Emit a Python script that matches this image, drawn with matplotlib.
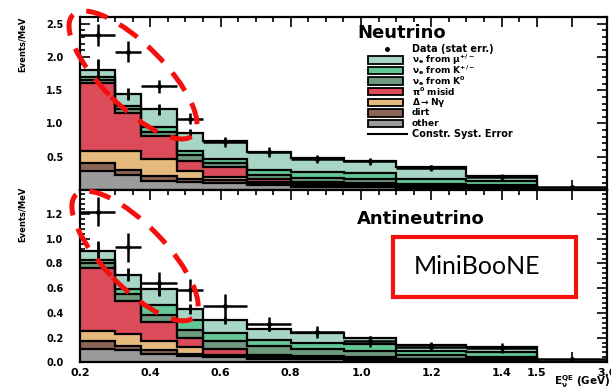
import numpy as np
import matplotlib
matplotlib.use("Agg")
import matplotlib.pyplot as plt
from matplotlib.patches import Ellipse, Rectangle
from matplotlib.lines import Line2D
from matplotlib.transforms import IdentityTransform
from matplotlib.ticker import FixedLocator, MultipleLocator, FormatStrFormatter

plt.rcParams['font.family'] = 'DejaVu Sans'
plt.rcParams['font.weight'] = 'bold'
plt.rcParams['mathtext.fontset'] = 'custom'
plt.rcParams['mathtext.rm'] = 'DejaVu Sans:bold'
plt.rcParams['mathtext.it'] = 'DejaVu Sans:bold'
plt.rcParams['mathtext.bf'] = 'DejaVu Sans:bold'
plt.rcParams['mathtext.default'] = 'rm'

# reconstructed energy bins (GeV), last bin is squeezed on the axis
edges = [0.2, 0.3, 0.375, 0.475, 0.55, 0.675, 0.8, 0.95, 1.1, 1.3, 1.5, 3.0]

# neutrino mode, Events/MeV per component (stacked bottom -> top)
nu_other = [0.28, 0.22, 0.135, 0.12, 0.10, 0.07, 0.05, 0.04, 0.03, 0.02, 0]
nu_dirt = [0.12, 0.08, 0.075, 0.04, 0.05, 0.02, 0.02, 0.01, 0.01, 0.01, 0]
nu_delta = [0.19, 0.29, 0.25, 0.12, 0.04, 0.03, 0.02, 0.02, 0.01, 0.01, 0]
nu_pi0 = [1.02, 0.57, 0.35, 0.15, 0.15, 0.04, 0.03, 0.03, 0.015, 0.01, 0]
nu_k0 = [0.05, 0.06, 0.06, 0.09, 0.06, 0.07, 0.06, 0.06, 0.025, 0.03, 0]
nu_kpm = [0.04, 0.04, 0.07, 0.07, 0.07, 0.07, 0.09, 0.09, 0.07, 0.05, 0]
nu_mu = [0.11, 0.19, 0.27, 0.27, 0.27, 0.27, 0.21, 0.19, 0.18, 0.08, 0]
nu_syst = [0.16, 0.09, 0.08, 0.05, 0.04, 0.03, 0.03, 0.03, 0.03, 0.02, 0]
nu_data = [2.33, 2.08, 1.56, 1.07, 0.72, 0.57, 0.46, 0.43, 0.33, 0.20, 0.04]
nu_err = [0.16, 0.16, 0.10, 0.08, 0.07, 0.07, 0.06, 0.05, 0.05, 0.04, 0.01]

# antineutrino mode
nb_other = [0.11, 0.10, 0.07, 0.05, 0.04, 0.03, 0.025, 0.02, 0.015, 0.01, 0]
nb_dirt = [0.06, 0.03, 0.03, 0.02, 0.01, 0.005, 0.005, 0.005, 0.005, 0.005, 0]
nb_delta = [0.08, 0.10, 0.07, 0.05, 0.01, 0.005, 0.005, 0.005, 0.005, 0.005, 0]
nb_pi0 = [0.51, 0.27, 0.16, 0.075, 0.05, 0.02, 0.015, 0.01, 0.005, 0.005, 0]
nb_k0 = [0.04, 0.05, 0.05, 0.065, 0.06, 0.07, 0.06, 0.055, 0.03, 0.02, 0]
nb_kpm = [0.03, 0.04, 0.08, 0.08, 0.065, 0.05, 0.05, 0.055, 0.03, 0.04, 0]
nb_mu = [0.07, 0.12, 0.13, 0.09, 0.105, 0.09, 0.08, 0.045, 0.05, 0.04, 0]
nb_syst = [0.08, 0.055, 0.05, 0.04, 0.03, 0.02, 0.02, 0.02, 0.015, 0.015, 0]
nb_data = [1.22, 0.93, 0.645, 0.585, 0.455, 0.31, 0.245, 0.17, 0.126, 0.118, 0.025]
nb_err = [0.12, 0.12, 0.09, 0.09, 0.10, 0.055, 0.05, 0.045, 0.035, 0.04, 0.01]

colors = ['#9b9b9b', '#8c6455', '#e6b97d', '#dc4b5a', '#6e9a7e', '#64c896', '#a8d6c4']
labels = [r'$\nu_e$ from $\mu^{+/-}$', r'$\nu_e$ from $K^{+/-}$', r'$\nu_e$ from $K^0$',
          r'$\pi^0$ misid', r'$\Delta\rightarrow N\gamma$', 'dirt', 'other']

xticks = [0.2, 0.4, 0.6, 0.8, 1.0, 1.2, 1.4, 1.5, 2.25, 3.0]
xticklabels = ['0.2', '0.4', '0.6', '0.8', '1.0', '1.2', '1.4', '1.5', '', '3.0']

K = 0.2 / 1.5   # compression of the 1.5-3.0 GeV bin


def fwd(x):
    x = np.asarray(x, float)
    return np.where(x <= 1.5, x, 1.5 + (x - 1.5) * K)


def inv(u):
    u = np.asarray(u, float)
    return np.where(u <= 1.5, u, 1.5 + (u - 1.5) / K)


def draw_panel(ax, comps, syst, data, err):
    e = np.array(edges)
    centers = 0.5 * (e[:-1] + e[1:])
    halfw = 0.5 * (e[1:] - e[:-1])
    base = np.zeros(len(centers))
    for vals, c in zip(comps, colors):
        top = base + np.array(vals)
        ax.stairs(top, e, baseline=base, fill=True, color=c, lw=0, zorder=2)
        base = top
    base = np.zeros(len(centers))
    for vals in comps:
        base = base + np.array(vals)
        ax.stairs(base, e, baseline=None, color='black', lw=1.6, zorder=3)
    ax.errorbar(centers[:-1], base[:-1], yerr=syst[:-1], fmt='none', ecolor='black',
                elinewidth=2.0, zorder=4)
    ax.errorbar(centers, data, xerr=halfw, yerr=err, fmt='o', ms=2.5, color='black',
                elinewidth=1.8, capsize=0, zorder=5)


fig = plt.figure(figsize=(6.11, 3.87), dpi=100)
W, H = 611.0, 387.0
ax1 = fig.add_axes([80 / W, 1 - 190 / H, 527 / W, 173 / H])
ax2 = fig.add_axes([80 / W, 1 - 362.3 / H, 527 / W, 172.3 / H], sharex=ax1)

draw_panel(ax1, [nu_other, nu_dirt, nu_delta, nu_pi0, nu_k0, nu_kpm, nu_mu], nu_syst, nu_data, nu_err)
draw_panel(ax2, [nb_other, nb_dirt, nb_delta, nb_pi0, nb_k0, nb_kpm, nb_mu], nb_syst, nb_data, nb_err)

for ax in (ax1, ax2):
    ax.set_xscale('function', functions=(fwd, inv))
    ax.set_xlim(0.2, 3.0)
    for s in ax.spines.values():
        s.set_linewidth(1.6)
    ax.tick_params(which='both', direction='in', top=True, right=True, width=1.2)
    ax.tick_params(which='major', length=7)
    ax.tick_params(which='minor', length=3.5)
    ax.tick_params(axis='y', labelsize=7, pad=12)
    ax.tick_params(axis='x', labelsize=8, pad=4)
    ax.xaxis.set_major_locator(FixedLocator(xticks))
    ax.xaxis.set_minor_locator(FixedLocator(np.arange(0.25, 1.5, 0.05)))

ax2.set_xticklabels(xticklabels)
ax1.tick_params(axis='x', labelbottom=False)

ax1.set_ylim(0, 2.6)
ax1.yaxis.set_major_locator(FixedLocator([0.5, 1.0, 1.5, 2.0, 2.5]))
ax1.yaxis.set_minor_locator(MultipleLocator(0.1))
ax1.yaxis.set_major_formatter(FormatStrFormatter('%.1f'))

ax2.set_ylim(0, 1.395)
ax2.yaxis.set_major_locator(FixedLocator([0.0, 0.2, 0.4, 0.6, 0.8, 1.0, 1.2]))
ax2.yaxis.set_minor_locator(MultipleLocator(0.04))
ax2.yaxis.set_major_formatter(FormatStrFormatter('%.1f'))

ax1.text(-0.11, 0.845, 'Events/MeV', transform=ax1.transAxes, rotation=90,
         ha='center', va='center', fontsize=6)
ax2.text(-0.11, 0.86, 'Events/MeV', transform=ax2.transAxes, rotation=90,
         ha='center', va='center', fontsize=6)
fig.text(610 / W, 1 - 382 / H, r'E$_{\nu}^{QE}$ (GeV)', ha='right', va='center', fontsize=7.5)

# legend of the top panel, drawn in axes fraction
ax1.text((357 - 80) / 527, (190 - 33) / 173, 'Neutrino', transform=ax1.transAxes,
         ha='left', va='center', fontsize=13)
ax2.text((357 - 80) / 527, (362.3 - 219) / 172.3, 'Antineutrino', transform=ax2.transAxes,
         ha='left', va='center', fontsize=13)

pitch = 10.6
row0 = 49.3
bx0, bx1, tx = 368, 403, 412
ax1.plot([(387 - 80) / 527], [(190 - row0) / 173], 'o', ms=2.5, color='black',
         transform=ax1.transAxes, clip_on=False)
ax1.text((tx - 80) / 527, (190 - row0) / 173, 'Data (stat err.)', transform=ax1.transAxes,
         ha='left', va='center', fontsize=7)
for i, (lab, c) in enumerate(zip(labels, colors[::-1])):
    yc = row0 + (i + 1) * pitch
    ax1.add_patch(Rectangle(((bx0 - 80) / 527, (190 - yc - 3.6) / 173), (bx1 - bx0) / 527, 7.2 / 173,
                            transform=ax1.transAxes, facecolor=c, edgecolor='black', lw=1.3,
                            clip_on=False, zorder=6))
    ax1.text((tx - 80) / 527, (190 - yc) / 173, lab, transform=ax1.transAxes,
             ha='left', va='center', fontsize=6.5)
yc = row0 + 8 * pitch
ax1.add_line(Line2D([(bx0 - 80) / 527, (407 - 80) / 527], [(190 - yc) / 173] * 2,
                    transform=ax1.transAxes, color='black', lw=1.5))
ax1.text((tx - 80) / 527, (190 - yc) / 173, 'Constr. Syst. Error', transform=ax1.transAxes,
         ha='left', va='center', fontsize=7)

# red dashed rings over the low energy excess
for cx, cy, ang in [(133, 75, -45), (135, 256, -46)]:
    fig.add_artist(Ellipse((cx, H - cy), 170, 62, angle=ang, transform=IdentityTransform(),
                           fill=False, edgecolor='#f51010', lw=3.6, linestyle=(0, (4.4, 2.8)),
                           zorder=10))

fig.add_artist(Rectangle((393, H - 297), 183, 60, transform=IdentityTransform(),
                         facecolor='white', edgecolor='#f51010', lw=3.0, zorder=10))
fig.text(477 / W, 1 - 266 / H, 'MiniBooNE', ha='center', va='center', fontsize=18,
         family='Lato', fontweight='normal', zorder=11)

fig.savefig('out.png', dpi=100)
